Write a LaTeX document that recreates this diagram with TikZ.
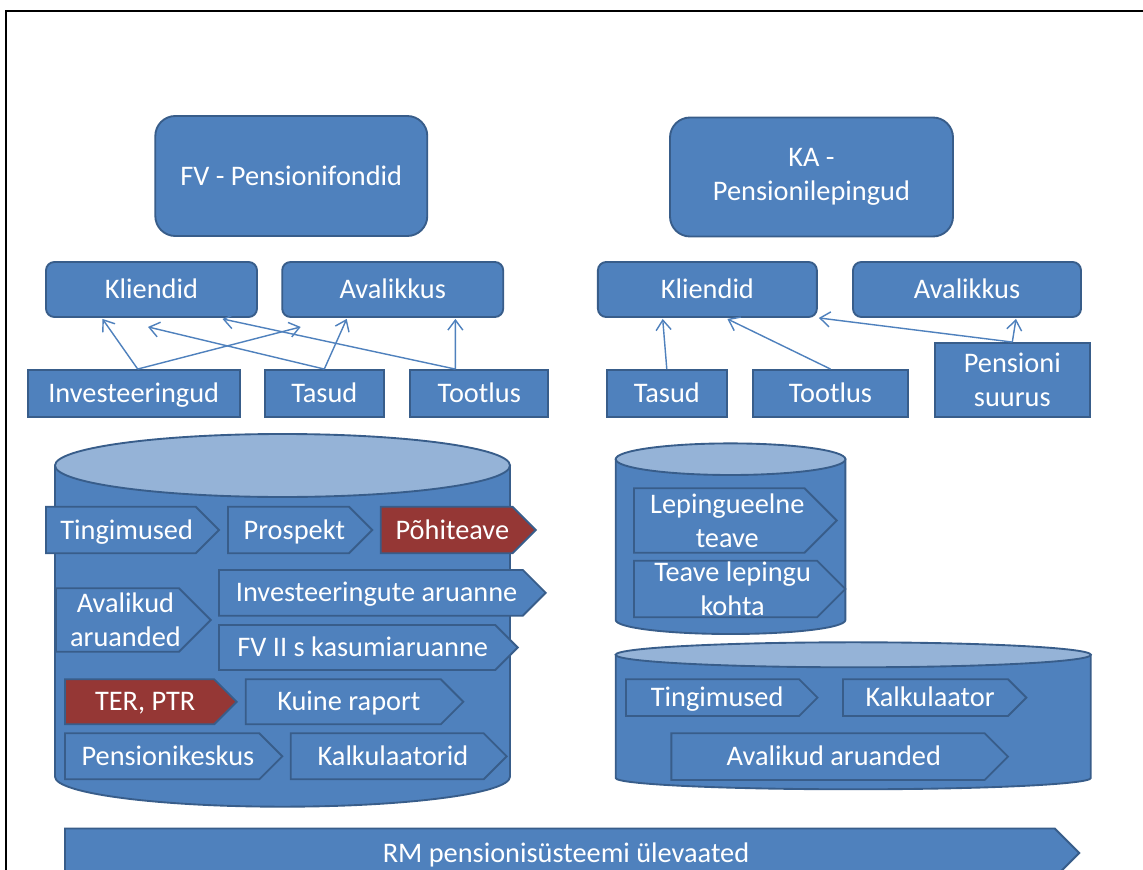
\documentclass[tikz,border=0pt]{standalone}
\usepackage{fontspec}
\setmainfont{Carlito}
\usetikzlibrary{arrows.meta}
\definecolor{boxblue}{HTML}{4F81BD}
\definecolor{edgeblue}{HTML}{385D8A}
\definecolor{topblue}{HTML}{95B3D7}
\definecolor{keyred}{HTML}{953735}
\tikzset{
  box/.style={draw=edgeblue, fill=boxblue, line width=1.6pt, text=white, align=center, inner sep=0pt,
    text height=15.6pt, text depth=0pt},
  twolines/.style={text height={}, text depth={}},
  bigbox/.style={box, rounded corners=0.6cm},
  smallbox/.style={box, rounded corners=0.25cm},
  flatbox/.style={box},
  boxsize/.style 2 args={minimum width=#1*0.03cm, minimum height=#2*0.03cm},
  link/.style={draw=boxblue, line width=1.2pt, -{Straight Barb[length=0.3cm,width=0.45cm]}},
  cylbody/.style={draw=edgeblue, fill=boxblue, line width=1.6pt},
  cyltop/.style={draw=edgeblue, fill=topblue, line width=1.6pt},
  chevblue/.style={draw=edgeblue, fill=boxblue, line width=1.6pt},
  chevred/.style={draw=edgeblue, fill=keyred, line width=1.6pt},
  chevtext/.style={text=white, align=center, inner sep=0pt, text height=15.6pt, text depth=0pt},
}
% chevron: [fill style][text style]{name}{left}{top}{tip}{bottom}{text}
\NewDocumentCommand{\chevron}{O{chevblue} O{} m m m m m m}{%
  \draw[#1] (#4,#5) -- ({#6-(#7-#5)/2},#5) -- (#6,{(#5+#7)/2}) -- ({#6-(#7-#5)/2},#7) -- (#4,#7) -- cycle;
  \node[chevtext,#2] (#3) at ({(#4+#6-(#7-#5)/4)/2},{(#5+#7)/2}) {#8};}

\begin{document}
\begin{tikzpicture}[x=0.03cm, y=-0.03cm, font=\fontsize{24.2pt}{29.4pt}\selectfont]
  \useasboundingbox (0,0) rectangle (1143,870);
  \clip (0,0) rectangle (1143,870);
  \fill[white] (0,0) rectangle (1143,870);

  % Drawing frame
  \draw[line width=1.7pt] (6,880) -- (6,11) -- (1150,11);

  % Drawing top boxes
  \node[bigbox, boxsize={272}{120}] (fv) at (291.3,176) {FV - Pensionifondid};
  \node[bigbox, twolines, boxsize={283}{119}] (ka) at (811.5,177) {KA -\\Pensionilepingud};

  % Drawing boxes of FV
  \node[smallbox, boxsize={211}{55}] (kl1) at (151.5,289.5) {Kliendid};
  \node[smallbox, boxsize={221}{55}] (av1) at (392.7,289.5) {Avalikkus};
  \node[flatbox, boxsize={212}{47}] (inv1) at (133.7,393.5) {Investeeringud};
  \node[flatbox, boxsize={119}{47}] (tas1) at (324.3,393.5) {Tasud};
  \node[flatbox, boxsize={138}{47}] (too1) at (479.3,393.5) {Tootlus};

  % Drawing boxes of KA
  \node[smallbox, boxsize={219}{55}] (kl2) at (707.4,289.5) {Kliendid};
  \node[smallbox, boxsize={228}{55}] (av2) at (967,289.5) {Avalikkus};
  \node[flatbox, boxsize={120}{47}] (tas2) at (666.8,393.5) {Tasud};
  \node[flatbox, boxsize={155}{47}] (too2) at (830.5,393.5) {Tootlus};
  \node[flatbox, twolines, boxsize={155}{74}] (pen) at (1012.3,380) {Pensioni\\suurus};

  % Drawing arrows of FV
  \draw[link] ([shift={(4,0)}]inv1.north) -- ([shift={(-49,1)}]kl1.south);
  \draw[link] ([shift={(4,0)}]inv1.north) -- ([shift={(-92,9)}]av1.south);
  \draw[link] (tas1.north) -- ([shift={(-3.5,9)}]kl1.south);
  \draw[link] (tas1.north) -- ([shift={(-46,1)}]av1.south);
  \draw[link] ([shift={(-24,0)}]too1.north) -- ([shift={(71,1)}]kl1.south);
  \draw[link] ([shift={(-24,0)}]too1.north) -- ([shift={(62.7,1)}]av1.south);

  % Drawing arrows of KA
  \draw[link] (tas2.north) -- ([shift={(-44.7,1)}]kl2.south);
  \draw[link] (too2.north) -- ([shift={(20,1)}]kl2.south);
  \draw[link] (pen.north) -- ([shift={(1,0)}]kl2.south east);
  \draw[link] (pen.north) -- ([shift={(49,1)}]av2.south);

  % Drawing cylinder of FV
  \draw[cylbody] (55,465.5) -- (55,776.7) arc[start angle=180, end angle=0, x radius=227.5, y radius=30] -- (510,465.5) -- cycle;
  \draw[cyltop] (282.5,465.5) ellipse [x radius=227.5, y radius=31.5];
  \chevron{ting1}{46}{506.7}{219}{553.3}{Tingimused}
  \chevron{prosp}{228}{506.7}{372.3}{553.3}{Prospekt}
  \chevron[chevred]{pohi}{380.7}{506.7}{535.7}{553.3}{Põhiteave}
  \chevron[chevblue][twolines]{aval1}{56}{588.3}{210.7}{651.7}{Avalikud\\aruanded}
  \chevron{invar}{219}{570}{545.7}{615.7}{Investeeringute aruanne}
  \chevron{kasum}{219}{625}{517.7}{670}{FV II s kasumiaruanne}
  \chevron[chevred]{terptr}{65}{679.3}{236.7}{724.3}{TER, PTR}
  \chevron{kuine}{245.7}{679.3}{463.3}{724.3}{Kuine raport}
  \chevron{pkesk}{65}{733.3}{282.3}{779.3}{Pensionikeskus}
  \chevron{kalk1}{290.7}{733.3}{506.7}{779.3}{Kalkulaatorid}

  % Drawing small cylinder of KA
  \draw[cylbody] (615.7,459.2) -- (615.7,620) arc[start angle=180, end angle=0, x radius=114.85, y radius=14] -- (845.4,459.2) -- cycle;
  \draw[cyltop] (730.55,459.2) ellipse [x radius=114.85, y radius=15.8];
  \chevron[chevblue][twolines]{leping}{634}{488.3}{836.7}{552.7}{Lepingueelne\\teave}
  \chevron[chevblue][twolines]{teave}{634}{560.7}{845.4}{617.3}{Teave lepingu\\kohta}

  % Drawing wide cylinder of KA
  \draw[cylbody] (615.7,654.8) -- (615.7,778) arc[start angle=180, end angle=0, x radius=237.55, y radius=11.3] -- (1090.8,654.8) -- cycle;
  \draw[cyltop] (853.25,654.8) ellipse [x radius=237.55, y radius=12.5];
  \chevron{ting2}{626}{679.3}{817.5}{716}{Tingimused}
  \chevron{kalk2}{843}{679.3}{1026.4}{716}{Kalkulaator}
  \chevron{aval2}{671.4}{733.3}{1008}{780}{Avalikud aruanded}

  % Drawing bottom arrow
  \chevron{rm}{65}{828.5}{1079.3}{877.5}{RM pensionisüsteemi ülevaated}
\end{tikzpicture}
\end{document}
